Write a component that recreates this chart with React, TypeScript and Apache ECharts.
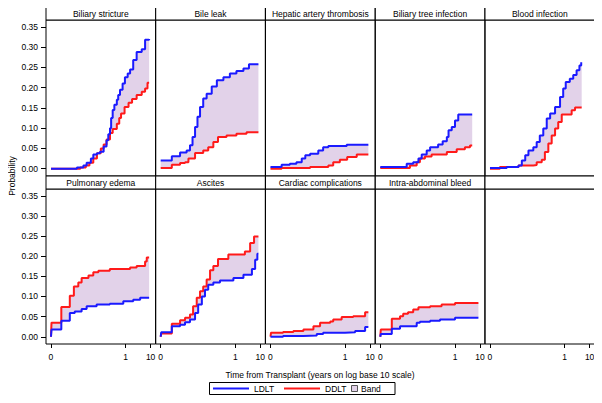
import React, { useEffect, useRef } from "react";
import * as echarts from "echarts";

const panelTitles = [
  "Biliary stricture",
  "Bile leak",
  "Hepatic artery thrombosis",
  "Biliary tree infection",
  "Blood infection",
  "Pulmonary edema",
  "Ascites",
  "Cardiac complications",
  "Intra-abdominal bleed",
  "",
];

const yTicks = [0, 0.05, 0.1, 0.15, 0.2, 0.25, 0.3, 0.35];
const xTickYears = [0.001, 1, 10];
const xTickLabels = ["0", "1", "10"];

// [years, cumulative probability]
const biliaryStrictureLDLT = [[0.001,0],[0.011,0.003],[0.02,0.008],[0.027,0.015],[0.04,0.025],[0.05,0.035],[0.07,0.038],[0.093,0.042],[0.13,0.055],[0.17,0.07],[0.2,0.085],[0.234,0.1],[0.26,0.125],[0.3,0.145],[0.35,0.158],[0.44,0.17],[0.5,0.182],[0.59,0.195],[0.75,0.21],[0.93,0.226],[1.2,0.235],[1.5,0.245],[2.0,0.268],[2.75,0.288],[4.4,0.295],[6.0,0.318],[8.7,0.32]];
const biliaryStrictureDDLT = [[0.001,0],[0.015,0.003],[0.025,0.008],[0.035,0.015],[0.05,0.025],[0.07,0.038],[0.1,0.05],[0.13,0.06],[0.17,0.072],[0.234,0.088],[0.3,0.098],[0.44,0.111],[0.55,0.125],[0.65,0.136],[0.9,0.152],[1.3,0.163],[1.8,0.172],[2.75,0.182],[4.4,0.19],[6,0.198],[7.5,0.212],[8.7,0.212]];
const bileLeakLDLT = [[0.001,0.02],[0.0028,0.031],[0.006,0.04],[0.011,0.045],[0.015,0.058],[0.019,0.078],[0.024,0.103],[0.03,0.128],[0.038,0.152],[0.051,0.173],[0.07,0.185],[0.112,0.203],[0.18,0.218],[0.33,0.226],[0.6,0.235],[1.1,0.241],[2.1,0.247],[3.5,0.258],[8.4,0.258]];
const bileLeakDDLT = [[0.001,0.002],[0.0028,0.01],[0.006,0.014],[0.0095,0.016],[0.013,0.025],[0.024,0.039],[0.051,0.045],[0.081,0.053],[0.13,0.066],[0.2,0.078],[0.44,0.082],[1.1,0.086],[2.8,0.09],[8.4,0.09]];
const hepaticArteryLDLT = [[0.001,0.004],[0.0028,0.01],[0.006,0.012],[0.011,0.016],[0.018,0.025],[0.025,0.033],[0.039,0.037],[0.083,0.045],[0.13,0.053],[0.21,0.056],[1.15,0.059],[8.5,0.059]];
const hepaticArteryDDLT = [[0.001,0],[0.0028,0.002],[0.039,0.004],[0.21,0.008],[0.33,0.016],[0.61,0.022],[1.2,0.029],[2.9,0.035],[8.5,0.035]];
const biliaryTreeLDLT = [[0.001,0.004],[0.0115,0.012],[0.021,0.016],[0.034,0.025],[0.046,0.035],[0.073,0.045],[0.1,0.053],[0.21,0.06],[0.32,0.068],[0.47,0.078],[0.55,0.095],[0.74,0.103],[1.0,0.119],[1.35,0.134],[4.9,0.134]];
const biliaryTreeDDLT = [[0.001,0.002],[0.0155,0.008],[0.029,0.016],[0.039,0.025],[0.062,0.03],[0.115,0.035],[0.47,0.041],[1.17,0.048],[2.5,0.053],[4.0,0.057],[4.9,0.057]];
const bloodInfectionLDLT = [[0.001,0.002],[0.0047,0.004],[0.014,0.008],[0.019,0.02],[0.026,0.033],[0.035,0.045],[0.055,0.053],[0.075,0.066],[0.1,0.082],[0.138,0.099],[0.19,0.124],[0.26,0.136],[0.41,0.152],[0.65,0.177],[0.87,0.198],[1.1,0.214],[1.6,0.222],[2.2,0.231],[3.0,0.243],[3.9,0.255],[4.6,0.263],[4.8,0.263]];
const bloodInfectionDDLT = [[0.001,0],[0.0025,0.004],[0.014,0.008],[0.055,0.009],[0.075,0.016],[0.12,0.022],[0.16,0.041],[0.22,0.062],[0.3,0.082],[0.41,0.099],[0.55,0.115],[0.76,0.134],[1.9,0.144],[2.6,0.151],[4.8,0.151]];
const pulmonaryEdemaLDLT = [[0.001,0],[0.00105,0.018],[0.0026,0.04],[0.0057,0.059],[0.009,0.063],[0.017,0.069],[0.027,0.076],[0.068,0.08],[0.23,0.082],[0.8,0.088],[2.0,0.092],[3.8,0.097],[8.7,0.097]];
const pulmonaryEdemaDDLT = [[0.001,0],[0.00105,0.035],[0.0026,0.074],[0.0057,0.102],[0.0083,0.125],[0.0125,0.135],[0.017,0.146],[0.032,0.152],[0.05,0.16],[0.08,0.164],[0.23,0.168],[1.5,0.172],[2.75,0.176],[6,0.187],[7,0.197],[8.7,0.197]];
const ascitesLDLT = [[0.001,0],[0.00105,0.011],[0.0028,0.026],[0.006,0.03],[0.0095,0.036],[0.015,0.043],[0.024,0.059],[0.032,0.08],[0.045,0.1],[0.06,0.117],[0.081,0.129],[0.13,0.135],[0.24,0.14],[0.83,0.146],[2.1,0.154],[4.6,0.168],[6.2,0.191],[7.6,0.206],[8.4,0.206]];
const ascitesDDLT = [[0.001,0],[0.00105,0.008],[0.0028,0.032],[0.006,0.041],[0.0095,0.047],[0.015,0.055],[0.02,0.076],[0.028,0.097],[0.038,0.113],[0.051,0.125],[0.07,0.142],[0.096,0.165],[0.13,0.176],[0.2,0.193],[0.52,0.204],[2.4,0.212],[3.9,0.233],[5.6,0.249],[8.4,0.249]];
const cardiacLDLT = [[0.001,0],[0.0032,0.002],[0.021,0.003],[0.072,0.007],[0.13,0.01],[0.98,0.011],[2.5,0.014],[6.3,0.024],[8.5,0.024]];
const cardiacDDLT = [[0.001,0],[0.00105,0.01],[0.0032,0.012],[0.0083,0.014],[0.021,0.018],[0.053,0.026],[0.098,0.035],[0.25,0.038],[0.33,0.043],[0.72,0.049],[2.1,0.051],[6.3,0.061],[8.5,0.061]];
const intraAbdominalLDLT = [[0.001,0],[0.00105,0.007],[0.0029,0.02],[0.0062,0.026],[0.029,0.035],[0.039,0.037],[0.1,0.04],[0.25,0.043],[1.0,0.047],[8.7,0.047]];
const intraAbdominalDDLT = [[0.001,0],[0.00105,0.018],[0.0029,0.045],[0.0062,0.051],[0.0083,0.057],[0.013,0.061],[0.021,0.068],[0.034,0.073],[0.1,0.076],[0.29,0.08],[1.0,0.084],[8.7,0.084]];

const panelCurves = [
  [biliaryStrictureLDLT, biliaryStrictureDDLT],
  [bileLeakLDLT, bileLeakDDLT],
  [hepaticArteryLDLT, hepaticArteryDDLT],
  [biliaryTreeLDLT, biliaryTreeDDLT],
  [bloodInfectionLDLT, bloodInfectionDDLT],
  [pulmonaryEdemaLDLT, pulmonaryEdemaDDLT],
  [ascitesLDLT, ascitesDDLT],
  [cardiacLDLT, cardiacDDLT],
  [intraAbdominalLDLT, intraAbdominalDDLT],
];

const BLUE = "#1a1aff";
const RED = "#ff1a1a";
const BAND = "#e2d2e9";
const FONT = '"Liberation Sans", Arial, sans-serif';

const colLefts = [46, 155.7, 265.5, 375.3, 485];
const panelW = 109.6;
const rowTops = [20, 189];
const rowHeights = [156, 155];
const headTops = [7, 176];
const headH = 13;

function stepAt(curve: number[][], t: number): number {
  let v = curve[0][1];
  for (const [tt, p] of curve) {
    if (tt <= t) v = p;
    else break;
  }
  return v;
}

function buildOption() {
  const grid: any[] = [];
  const xAxis: any[] = [];
  const yAxis: any[] = [];
  const series: any[] = [];
  const graphic: any[] = [];
  const xTickLog = xTickYears.map((y) => Math.log10(y));

  for (let i = 0; i < 10; i++) {
    const r = Math.floor(i / 5);
    const c = i % 5;
    grid.push({
      left: colLefts[c],
      top: rowTops[r],
      width: panelW,
      height: rowHeights[r],
      show: true,
      borderColor: "#000",
      borderWidth: 1,
      backgroundColor: "transparent",
      containLabel: false,
      outerBoundsMode: "none",
    });
    xAxis.push({
      type: "value",
      gridIndex: i,
      position: "bottom",
      min: -3.2,
      max: 1.2,
      splitLine: { show: false },
      axisLine: { show: false, onZero: false },
      axisTick: {
        show: r === 1,
        customValues: xTickLog,
        length: 4,
        lineStyle: { color: "#000", width: 1 },
      },
      axisLabel: {
        show: r === 1,
        customValues: xTickLog,
        margin: 8,
        color: "#000",
        fontSize: 8.5,
        fontFamily: FONT,
        formatter: (v: number) => {
          const k = xTickLog.findIndex((q) => Math.abs(q - v) < 1e-6);
          return k >= 0 ? xTickLabels[k] : "";
        },
      },
    });
    yAxis.push({
      type: "value",
      gridIndex: i,
      position: "left",
      min: -0.018,
      max: 0.367,
      splitLine: { show: false },
      axisLine: { show: false, onZero: false },
      axisTick: {
        show: c === 0,
        customValues: yTicks,
        length: 5,
        lineStyle: { color: "#000", width: 1 },
      },
      axisLabel: {
        show: c === 0,
        customValues: yTicks,
        margin: 8,
        color: "#000",
        fontSize: 8.5,
        fontFamily: FONT,
        formatter: (v: number) => v.toFixed(2),
      },
    });
    graphic.push({
      type: "rect",
      shape: { x: colLefts[c], y: headTops[r], width: panelW, height: headH },
      style: { fill: "#fff", stroke: "#000", lineWidth: 1 },
      silent: true,
    });
    if (panelTitles[i]) {
      graphic.push({
        type: "text",
        x: colLefts[c] + panelW / 2,
        y: headTops[r] + headH / 2 + 0.5,
        style: {
          text: panelTitles[i],
          fill: "#000",
          font: `8.5px ${FONT}`,
          textAlign: "center",
          textVerticalAlign: "middle",
        },
        silent: true,
      });
    }
  }

  panelCurves.forEach(([ldlt, ddlt], i) => {
    const times = Array.from(new Set([...ldlt.map((d) => d[0]), ...ddlt.map((d) => d[0])])).sort((a, b) => a - b);
    const upper = times.map((t) => Math.max(stepAt(ldlt, t), stepAt(ddlt, t)));
    const lower = times.map((t) => Math.min(stepAt(ldlt, t), stepAt(ddlt, t)));
    const logT = times.map((t) => Math.log10(t));
    series.push({
      type: "custom",
      name: "Band",
      xAxisIndex: i,
      yAxisIndex: i,
      silent: true,
      z: 1,
      data: [[logT[0], lower[0]]],
      renderItem: (params: any, api: any) => {
        const pts: number[][] = [];
        const n = logT.length;
        for (let k = 0; k < n; k++) {
          pts.push(api.coord([logT[k], upper[k]]));
          if (k < n - 1) pts.push(api.coord([logT[k + 1], upper[k]]));
        }
        for (let k = n - 1; k >= 0; k--) {
          if (k < n - 1) pts.push(api.coord([logT[k + 1], lower[k]]));
          pts.push(api.coord([logT[k], lower[k]]));
        }
        return {
          type: "polygon",
          shape: { points: pts },
          style: { fill: BAND, stroke: "none" },
        };
      },
    });
    const common = {
      type: "line",
      xAxisIndex: i,
      yAxisIndex: i,
      step: "end",
      symbol: "none",
      silent: true,
    };
    series.push({
      ...common,
      name: "DDLT",
      data: ddlt.map(([t, p]) => [Math.log10(t), p]),
      lineStyle: { color: RED, width: 2 },
      itemStyle: { color: RED },
      z: 3,
    });
    series.push({
      ...common,
      name: "LDLT",
      data: ldlt.map(([t, p]) => [Math.log10(t), p]),
      lineStyle: { color: BLUE, width: 2 },
      itemStyle: { color: BLUE },
      z: 4,
    });
  });

  graphic.push({
    type: "text",
    x: 12,
    y: 176,
    rotation: Math.PI / 2,
    style: {
      text: "Probability",
      fill: "#000",
      font: `8.5px ${FONT}`,
      textAlign: "center",
      textVerticalAlign: "middle",
    },
    silent: true,
  });
  graphic.push({
    type: "text",
    x: 320,
    y: 375,
    style: {
      text: "Time from Transplant (years on log base 10 scale)",
      fill: "#000",
      font: `8.5px ${FONT}`,
      textAlign: "center",
      textVerticalAlign: "middle",
    },
    silent: true,
  });
  const ly = 388.5;
  graphic.push({
    type: "rect",
    shape: { x: 209.5, y: 382.5, width: 185.5, height: 12 },
    style: { fill: "#fff", stroke: "#000", lineWidth: 1 },
    silent: true,
  });
  graphic.push({ type: "line", shape: { x1: 213, y1: ly, x2: 249, y2: ly }, style: { stroke: BLUE, lineWidth: 2 }, silent: true });
  graphic.push({ type: "text", x: 254, y: ly, style: { text: "LDLT", fill: "#000", font: `8.5px ${FONT}`, textAlign: "left", textVerticalAlign: "middle" }, silent: true });
  graphic.push({ type: "line", shape: { x1: 284, y1: ly, x2: 320, y2: ly }, style: { stroke: RED, lineWidth: 2 }, silent: true });
  graphic.push({ type: "text", x: 325, y: ly, style: { text: "DDLT", fill: "#000", font: `8.5px ${FONT}`, textAlign: "left", textVerticalAlign: "middle" }, silent: true });
  graphic.push({ type: "rect", shape: { x: 351.5, y: 385.5, width: 6, height: 6 }, style: { fill: BAND, stroke: "#555", lineWidth: 1 }, silent: true });
  graphic.push({ type: "text", x: 361, y: ly, style: { text: "Band", fill: "#000", font: `8.5px ${FONT}`, textAlign: "left", textVerticalAlign: "middle" }, silent: true });

  return {
    animation: false,
    backgroundColor: "#fff",
    textStyle: { fontFamily: FONT },
    grid,
    xAxis,
    yAxis,
    series,
    graphic,
  };
}

export default function App() {
  const ref = useRef<HTMLDivElement>(null);
  useEffect(() => {
    if (!ref.current) return;
    const chart = echarts.init(ref.current, undefined, { renderer: "svg" });
    chart.setOption(buildOption() as any);
    return () => chart.dispose();
  }, []);
  return <div ref={ref} style={{ width: 602, height: 403, margin: -8 }} />;
}
